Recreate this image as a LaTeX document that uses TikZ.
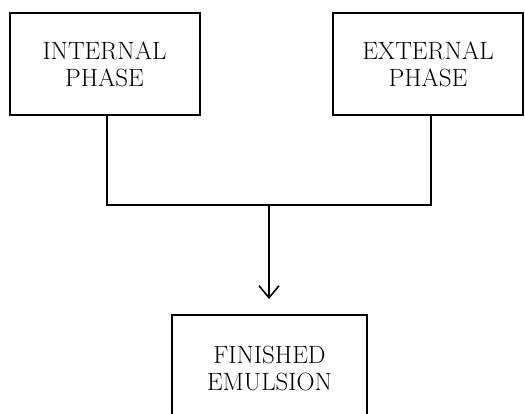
\documentclass[tikz,border=0pt]{standalone}
\usepackage{tikz}
\usetikzlibrary{arrows.meta,positioning,calc}

\begin{document}
\begin{tikzpicture}[
      x=1pt, y=1pt,
      box/.style={rectangle, draw, line width=2pt, minimum width=190pt, minimum height=102pt,
                  align=center, font=\fontsize{25}{27}\selectfont, inner sep=0pt},
      link/.style={line width=2pt},
      arrow/.style={-{Straight Barb[length=12pt,width=20pt,line width=1.6pt]}, line width=1.6pt},
    ]
    \useasboundingbox (0,0) rectangle (525,-414);
    \node[box]                      (inner)  at (104.5,-64)  {INTERNAL\\PHASE};
    \node[box]                      (outer)  at (428,-64)    {EXTERNAL\\PHASE};
    \node[box, minimum width=195pt, minimum height=106pt] (finish) at (269.5,-368) {FINISHED\\EMULSION};
    \coordinate (joint) at (269,-205);

    \draw[link] ([xshift=2.5pt]inner.south) |- (joint) -| ([xshift=2.5pt]outer.south);
    \draw[arrow, shorten >=15pt] (joint) -- (joint |- finish.north);
  \end{tikzpicture}
\end{document}
